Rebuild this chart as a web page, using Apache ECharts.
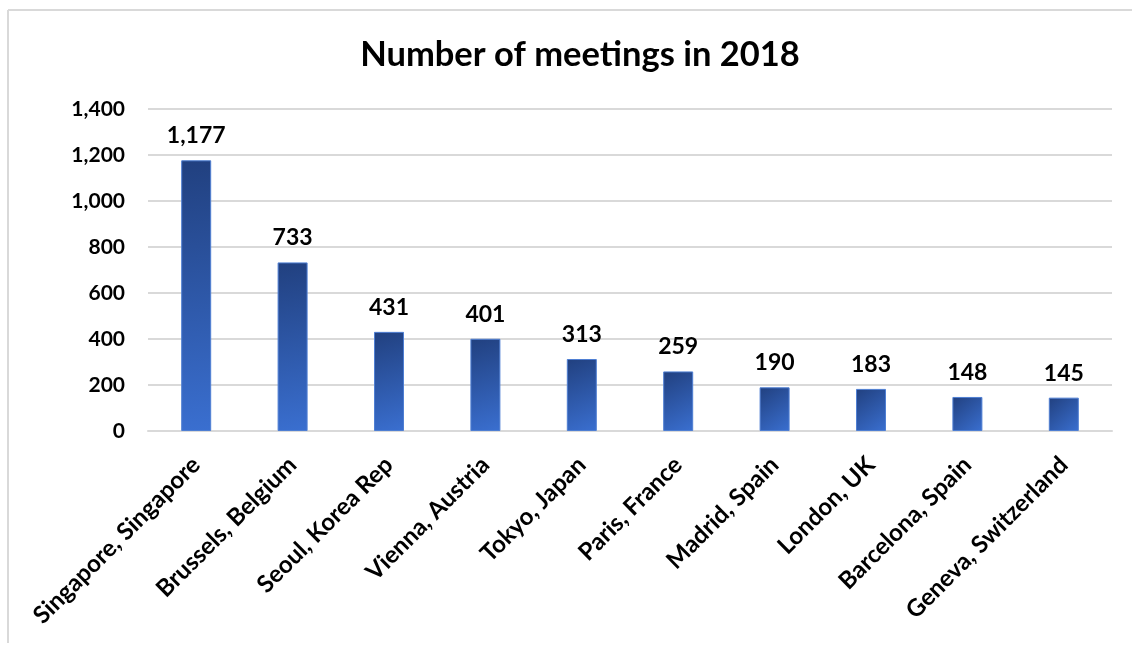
<!DOCTYPE html>
<html>
<head>
<meta charset="utf-8">
<script src="https://cdn.jsdelivr.net/npm/echarts@6/dist/echarts.min.js"></script>
<style>
html,body{margin:0;padding:0;background:#fff;}
#c{width:1132px;height:645px;}
</style>
</head>
<body>
<div id="c"></div>
<script>
const titleText = "Number of meetings in 2018";
const categories = ["Singapore, Singapore","Brussels, Belgium","Seoul, Korea Rep","Vienna, Austria","Tokyo, Japan","Paris, France","Madrid, Spain","London, UK","Barcelona, Spain","Geneva, Switzerland"];
const meetings = [1177, 733, 431, 401, 313, 259, 190, 183, 148, 145];
const yTicks = [0, 200, 400, 600, 800, 1000, 1200, 1400];

const FONT = "Lato";
const chart = echarts.init(document.getElementById('c'));
chart.setOption({
  backgroundColor: '#fff',
  animation: false,
  title: {
    text: titleText,
    left: 575, top: 32, textAlign: 'center',
    textStyle: {fontFamily: FONT, fontWeight: 'bold', fontSize: 34.5, color: '#000'}
  },
  graphic: [
    {type:'line', shape:{x1:8,y1:10,x2:1132,y2:10}, style:{stroke:'#d9d9d9', lineWidth:2}},
    {type:'line', shape:{x1:8,y1:10,x2:8,y2:643}, style:{stroke:'#d9d9d9', lineWidth:2}}
  ],
  grid: {left: 148, right: 20, top: 109, bottom: 214, containLabel: false},
  xAxis: {
    type: 'category',
    data: categories,
    axisLine: {show: true, lineStyle: {color: '#d9d9d9', width: 2}},
    axisTick: {show: false},
    axisLabel: {
      rotate: 45, interval: 0, margin: 30,
      fontFamily: FONT, fontWeight: 'bold', fontSize: 24, color: '#000'
    }
  },
  yAxis: {
    type: 'value', min: 0, max: 1400, interval: 200,
    axisLine: {show: false}, axisTick: {show: false},
    splitLine: {lineStyle: {color: '#d9d9d9', width: 2}},
    axisLabel: {
      margin: 23,
      fontFamily: FONT, fontWeight: 'bold', fontSize: 21, color: '#000',
      formatter: v => v.toLocaleString('en-US')
    }
  },
  series: [{
    type: 'bar',
    data: meetings,
    barWidth: 30,
    itemStyle: {
      borderColor: '#4f7fd3', borderWidth: 1,
      color: new echarts.graphic.LinearGradient(0, 0, 1, 1, [
        {offset: 0, color: '#21407f'},
        {offset: 1, color: '#3a6fd0'}
      ])
    },
    label: {
      show: true, position: 'top', distance: 13,
      fontFamily: FONT, fontWeight: 'bold', fontSize: 23, color: '#000',
      formatter: p => p.value.toLocaleString('en-US')
    }
  }]
});
</script>
</body>
</html>
